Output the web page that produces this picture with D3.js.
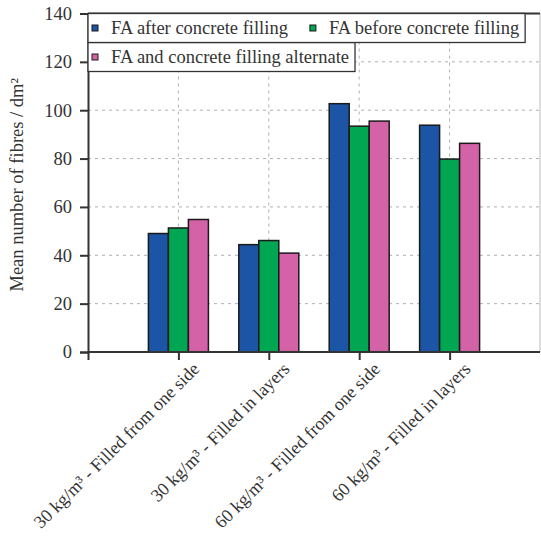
<!DOCTYPE html>
<html>
<head>
<meta charset="utf-8">
<script src="https://cdn.jsdelivr.net/npm/d3@7"></script>
<style>
  html, body { margin: 0; padding: 0; background: #fff; }
  svg { display: block; }
</style>
</head>
<body>
<svg id="chart" width="541" height="546"></svg>
<script>
const categories = [
  "30 kg/m³ - Filled from one side",
  "30 kg/m³ - Filled in layers",
  "60 kg/m³ - Filled from one side",
  "60 kg/m³ - Filled in layers"
];
const seriesNames = [
  "FA after concrete filling",
  "FA before concrete filling",
  "FA and concrete filling alternate"
];
const faAfter = [49, 44.4, 102.7, 93.8];
const faBefore = [51.3, 46.1, 93.4, 79.8];
const faAlternate = [54.8, 40.9, 95.5, 86.3];
const seriesColors = ["#1c55a6", "#00a651", "#d462a6"];
const yTicks = [0, 20, 40, 60, 80, 100, 120, 140];
const yTitle = "Mean number of fibres / dm²";

const series = [faAfter, faBefore, faAlternate];
const FONT = '"Liberation Serif"';
const FS = "18.5px";
const TXT = "#333";

const svg = d3.select("#chart").style("font-family", FONT);
const mLeft = 88, mRight = 540, mTop = 13.5, mBottom = 352;

const y = d3.scaleLinear().domain([0, 140]).range([mBottom, mTop]);
// positions 0..5, categories at 1..4
const x = d3.scaleLinear().domain([0, categories.length + 1]).range([mLeft, mRight]);
const barW = 20;
const xs = d3.scaleBand().domain(d3.range(series.length)).range([-barW * 1.5, barW * 1.5]).padding(0);

// grid
const grid = svg.append("g");
grid.selectAll("line.h").data(yTicks.filter(t => t > 0 && t < 140)).join("line")
  .attr("x1", mLeft).attr("x2", mRight)
  .attr("y1", d => y(d)).attr("y2", d => y(d))
  .attr("stroke", "#b0b0b0").attr("stroke-width", 1).attr("stroke-dasharray", "3,4");
grid.selectAll("line.v").data(categories).join("line")
  .attr("x1", (d, i) => x(i + 1)).attr("x2", (d, i) => x(i + 1))
  .attr("y1", mTop).attr("y2", mBottom)
  .attr("stroke", "#b0b0b0").attr("stroke-width", 1).attr("stroke-dasharray", "3,4");

// right border
svg.append("line").attr("x1", mRight).attr("x2", mRight).attr("y1", mTop).attr("y2", mBottom)
  .attr("stroke", "#bbb").attr("stroke-width", 1);

// bars
series.forEach((vals, si) => {
  svg.append("g").selectAll("rect").data(vals).join("rect")
    .attr("x", (d, i) => x(i + 1) + xs(si))
    .attr("y", d => y(d))
    .attr("width", xs.bandwidth())
    .attr("height", d => mBottom - y(d))
    .attr("fill", seriesColors[si])
    .attr("stroke", "#1a1a1a").attr("stroke-width", 1.5);
});

// y axis
const yAxis = d3.axisLeft(y).tickValues(yTicks).tickSize(8).tickPadding(8);
const gy = svg.append("g").attr("transform", `translate(${mLeft},0)`).call(yAxis);
gy.attr("font-family", null).attr("font-size", null);
gy.select(".domain").attr("stroke", "#333").attr("stroke-width", 2);
gy.selectAll(".tick line").attr("stroke", "#333").attr("stroke-width", 2);
gy.selectAll(".tick text").style("font-size", FS).style("font-family", FONT).attr("fill", TXT);

// x axis
const xAxis = d3.axisBottom(x).tickValues(d3.range(0, categories.length + 1)).tickSize(8).tickFormat("");
const gx = svg.append("g").attr("transform", `translate(0,${mBottom})`).call(xAxis);
gx.select(".domain").attr("stroke", "#333").attr("stroke-width", 2).attr("d", `M${mLeft},0H${mRight}`);
gx.selectAll(".tick line").attr("stroke", "#333").attr("stroke-width", 2);

// top frame
svg.append("line").attr("x1", mLeft).attr("x2", mRight).attr("y1", mTop).attr("y2", mTop)
  .attr("stroke", "#333").attr("stroke-width", 2);

// x labels
svg.append("g").selectAll("text").data(categories).join("text")
  .attr("transform", (d, i) => `translate(${x(i + 1) + 22},${mBottom + 18}) rotate(-45)`)
  .attr("text-anchor", "end")
  .style("font-size", "18px").style("font-family", FONT).attr("fill", TXT)
  .text(d => d);

// y title
svg.append("text")
  .attr("transform", `translate(23,${(mTop + mBottom) / 2 + 2}) rotate(-90)`)
  .attr("text-anchor", "middle")
  .style("font-size", FS).style("font-family", FONT).attr("fill", TXT)
  .text(yTitle);

// legend
const legend = svg.append("g");
const rowH = 29;
const rows = [[]];
let cx = mLeft + 4;
const items = seriesNames.map((name, i) => {
  const g = legend.append("g");
  g.append("rect").attr("width", 6).attr("height", 6)
    .attr("fill", seriesColors[i]).attr("stroke", "#1a1a1a").attr("stroke-width", 1);
  const t = g.append("text").attr("x", 19).attr("y", 3).attr("dy", "0.35em")
    .style("font-size", FS).style("font-family", FONT).attr("fill", TXT).text(name);
  const w = t.node().getComputedTextLength() + 19;
  return { g, w };
});
items.forEach((it) => {
  if (cx + it.w > mRight - 4 && rows[rows.length - 1].length) {
    rows.push([]);
    cx = mLeft + 4;
  }
  rows[rows.length - 1].push({ it, x: cx });
  cx += it.w + 22;
});
rows.forEach((row, r) => {
  const y0 = mTop + r * rowH;
  const last = row[row.length - 1];
  const wRow = last.x + last.it.w + 6 - mLeft;
  legend.insert("rect", ":first-child")
    .attr("x", mLeft).attr("y", y0).attr("width", wRow).attr("height", rowH)
    .attr("fill", "#fff").attr("stroke", "#333").attr("stroke-width", 1.3);
  row.forEach(c => c.it.g.attr("transform", `translate(${c.x},${y0 + rowH / 2 - 3})`));
});
</script>
</body>
</html>
